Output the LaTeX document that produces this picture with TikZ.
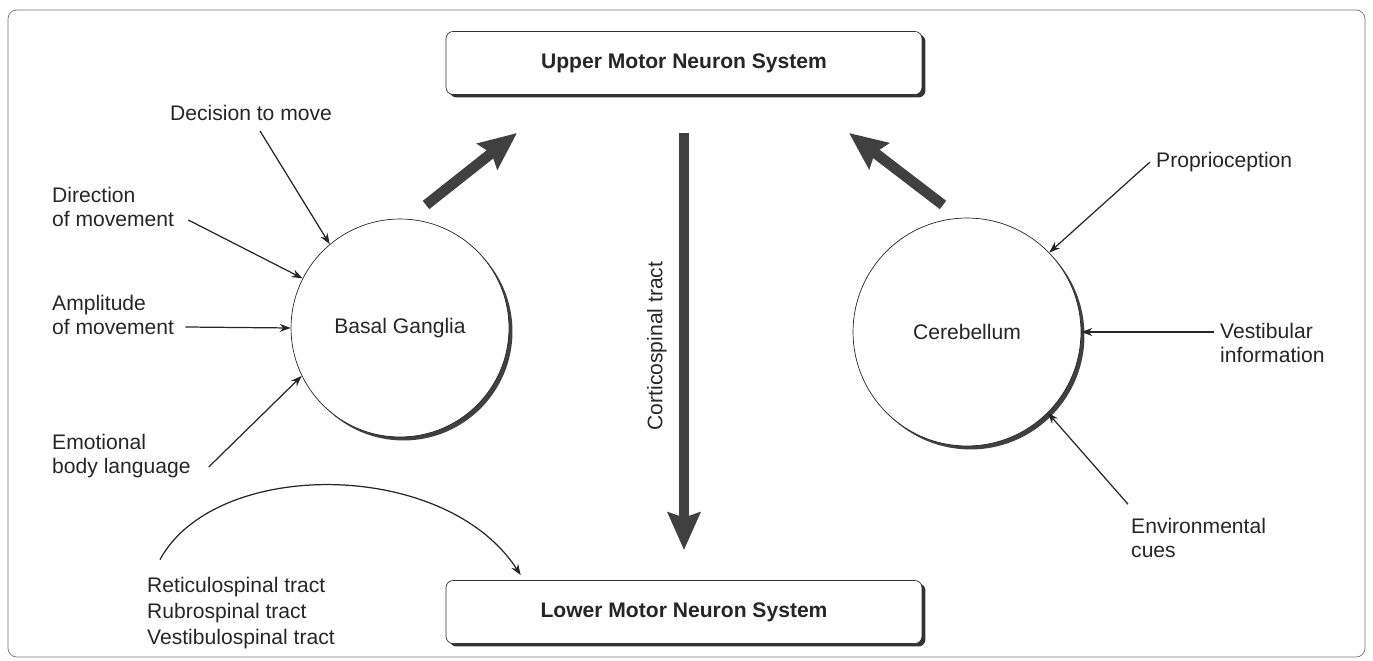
\documentclass[tikz,border=0pt]{standalone}
\usepackage{fontspec}
\setmainfont{Liberation Sans}
\usetikzlibrary{arrows.meta,shadows,calc}

\begin{document}
\begin{tikzpicture}[x=0.02cm, y=-0.02cm,
  every node/.style={font=\fontsize{12}{13.5}\selectfont, text=black!85},
  lbl/.style={align=left, anchor=west},
  sysbox/.style={draw=black!80, fill=white, rounded corners=4pt,
    minimum width=9.52cm, minimum height=1.26cm,
    font=\fontsize{12}{13.5}\selectfont\bfseries,
    drop shadow={shadow xshift=0.07cm, shadow yshift=-0.06cm, fill=black!80, opacity=1}},
  hub/.style={draw=black!85, fill=white, circle,
    drop shadow={shadow xshift=0.07cm, shadow yshift=-0.07cm, fill=black!75, opacity=1}},
  inarrow/.style={draw=black!85, line width=0.7pt, -{Stealth[length=2.2mm, width=1.6mm]}},
  bigarrow/.style={draw=black!75, line width=6pt, -{Stealth[length=0.75cm, width=0.64cm, inset=0.1cm]}}]

  \useasboundingbox (0,0) rectangle (1373,661);
  \draw[black!55, rounded corners=5pt] (8,10) rectangle (1365,657);

  % systems and centres
  \node[sysbox] (upbox) at (684,63) {Upper Motor Neuron System};
  \node[sysbox] (lowbox) at (684,612) {Lower Motor Neuron System};
  \node[hub, minimum size=4.36cm] (bg) at (400,328) {Basal Ganglia};
  \node[hub, minimum size=4.56cm] (cb) at (967,332) {Cerebellum};

  % inputs to the basal ganglia
  \node (declab) at (251,113) {Decision to move};
  \node[lbl] (dirlab) at (46,207) {Direction\\of movement};
  \node[lbl] (amplab) at (46,315) {Amplitude\\of movement};
  \node[lbl] (emolab) at (46,456) {Emotional\\body language};
  \draw[inarrow] ($(declab.south)+(9,4)$) -- (bg.130);
  \draw[inarrow] ($(dirlab.east)+(8,13)$) -- (bg.153);
  \draw[inarrow] ($(amplab.east)+(5,12)$) -- (bg.west);
  \draw[inarrow] ($(emolab.east)+(12,11)$) -- (bg.206);

  % inputs to the cerebellum
  \node[lbl] (proplab) at (1150,162) {Proprioception};
  \node[lbl] (veslab) at (1214,343) {Vestibular\\information};
  \node[lbl] (envlab) at (1125,538) {Environmental\\cues};
  \draw[inarrow] (proplab.west) -- (cb.44);
  \draw[inarrow] ($(veslab.west)+(0,-11)$) -- (cb.east);
  \draw[inarrow] ($(envlab.north west)+(3,-8)$) -- (cb.315);

  % outputs
  \coordinate (bgout) at (426,205);
  \coordinate (bgup) at (517,133);
  \coordinate (cbout) at (943,205);
  \coordinate (cbup) at (849,133);
  \draw[bigarrow] (bgout) -- (bgup);
  \draw[bigarrow] (cbout) -- (cbup);
  \draw[bigarrow, shorten <=0.76cm, shorten >=0.6cm] (upbox) -- (lowbox);
  \node[rotate=90] (cstlab) at (657,346) {Corticospinal tract};

  % other descending tracts
  \node[lbl] (tractlab) at (141,613) {Reticulospinal tract\\[1.5pt]Rubrospinal tract\\[1.5pt]Vestibulospinal tract};
  \draw[inarrow] ($(tractlab.north west)+(19,-11)$) .. controls (215,458) and (445,458) .. ($(lowbox.north west)+(75,-5)$);
\end{tikzpicture}
\end{document}
